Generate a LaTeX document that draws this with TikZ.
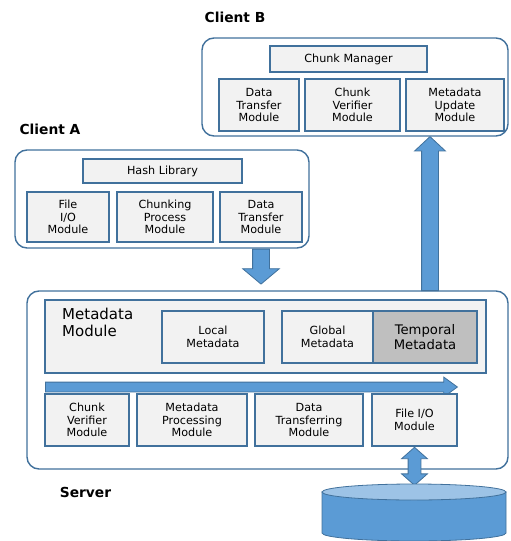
\documentclass[tikz,border=0pt]{standalone}
\usepackage{fontspec}
\setmainfont{DejaVu Sans}
\usepackage{tikz}
\usetikzlibrary{shapes,arrows,positioning,calc}
\definecolor{border}{HTML}{41719C}
\definecolor{boxgray}{HTML}{F2F2F2}
\definecolor{tempgray}{HTML}{BFBFBF}
\definecolor{arrowblue}{HTML}{5B9BD5}
\definecolor{dbtop}{HTML}{9DC3E6}
\tikzstyle{frame} = [draw=border, line width=1.4pt, rounded corners=12pt, fill=white]
\tikzstyle{module} = [draw=border, line width=1.5pt, fill=boxgray, align=center, inner sep=0pt, font=\fontsize{11.2}{12.7}\selectfont]
\tikzstyle{title} = [font=\fontsize{13.8}{16}\selectfont\bfseries]
\tikzstyle{blockarrow} = [single arrow, draw=border, fill=arrowblue, line width=0.8pt, inner sep=0pt, minimum width=0pt]
\tikzstyle{bothway} = [double arrow, draw=border, fill=arrowblue, line width=0.8pt, inner sep=0pt, minimum width=0pt]

\begin{document}
\begin{tikzpicture}[x=1pt, y=-1pt]
    \useasboundingbox (0,0) rectangle (511,541);

    \node[title] (clientBlabel) at (235,17) {Client B};
    \node[frame, minimum width=306, minimum height=98] (clientB) at (355,87) {};
    \node[module, minimum width=157, minimum height=26] (manager) at (348.5,59) {Chunk Manager};
    \node[module, minimum width=80, minimum height=52] (transferB) at (259,105) {Data\\Transfer\\Module};
    \node[module, minimum width=95, minimum height=52] (verifierB) at (352.5,105) {Chunk\\Verifier\\Module};
    \node[module, minimum width=98, minimum height=52] (updateB) at (455,105) {Metadata\\Update\\Module};

    \node[title] (clientAlabel) at (50,129) {Client A};
    \node[frame, minimum width=294, minimum height=98] (clientA) at (162,199) {};
    \node[module, minimum width=159, minimum height=24] (hash) at (162.5,171) {Hash Library};
    \node[module, minimum width=82, minimum height=50] (fileA) at (68,217) {File\\I/O\\Module};
    \node[module, minimum width=96, minimum height=50] (chunking) at (165,217) {Chunking\\Process\\Module};
    \node[module, minimum width=82, minimum height=50] (transferA) at (261,217) {Data\\Transfer\\Module};

    \node[frame, minimum width=481, minimum height=178] (server) at (267.5,380) {};
    \node[module, minimum width=441, minimum height=73] (metadata) at (265.5,336.5) {};
    \node[anchor=north west, align=left, inner sep=0pt, font=\fontsize{15}{17}\selectfont] (metalabel) at (62,308) {Metadata\\Module};
    \node[module, minimum width=102, minimum height=52] (local) at (213,337) {Local\\Metadata};
    \node[module, minimum width=91, minimum height=52] (global) at (327.5,337) {Global\\Metadata};
    \node[module, fill=tempgray, minimum width=104, minimum height=52, font=\fontsize{13.2}{15}\selectfont] (temporal) at (425,337) {Temporal\\Metadata};
    \node[blockarrow, minimum height=412, single arrow head extend=5, single arrow tip angle=72, inner ysep=4.5, anchor=tail] (flow) at (45,387) {};
    \node[module, minimum width=84, minimum height=52] (verifierS) at (87,420) {Chunk\\Verifier\\Module};
    \node[module, minimum width=110, minimum height=52] (processing) at (192,420) {Metadata\\Processing\\Module};
    \node[module, minimum width=108, minimum height=52] (transferS) at (309,420) {Data\\Transferring\\Module};
    \node[module, minimum width=85, minimum height=52] (fileS) at (414.5,420) {File I/O\\Module};
    \node[title] (serverlabel) at (85.5,492) {Server};

    \node[blockarrow, rotate=-90, minimum height=35, single arrow head extend=10, single arrow tip angle=100, inner ysep=8, anchor=tail] (down) at (transferA.south |- clientA.south) {};
    \node[blockarrow, rotate=90, minimum height=154, single arrow head extend=7, single arrow tip angle=94, inner ysep=8, anchor=tail] (up) at (430,291) {};
    \node[bothway, rotate=90, minimum height=38, double arrow head extend=6.5, double arrow tip angle=97, inner ysep=6, anchor=tip 1] (io) at (fileS.south) {};

    \draw[draw=border, fill=arrowblue, line width=0.8pt] (322,492) -- (322,533) arc[start angle=180, end angle=360, x radius=92pt, y radius=8pt] -- (506,492) -- cycle;
    \draw[draw=border, fill=dbtop, line width=0.8pt] (414,492) ellipse [x radius=92pt, y radius=8pt];
\end{tikzpicture}
\end{document}
